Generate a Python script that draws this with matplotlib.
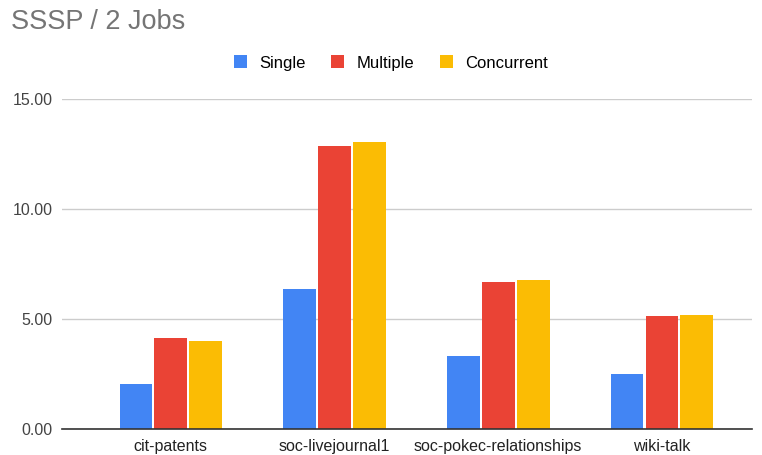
import numpy as np
import matplotlib
matplotlib.use('Agg')
from matplotlib import pyplot as plt

plt.rcParams['font.family'] = ['Liberation Sans', 'DejaVu Sans']

categories = ['cit-patents', 'soc-livejournal1', 'soc-pokec-relationships', 'wiki-talk']
series_names = ['Single', 'Multiple', 'Concurrent']
single = [2.05, 6.38, 3.33, 2.51]
multiple = [4.13, 12.86, 6.70, 5.12]
concurrent = [4.01, 13.03, 6.76, 5.17]
y_ticks = [0, 5, 10, 15]

colors = ['#4285F4', '#EA4335', '#FBBC04']

W, H = 762, 455
fig = plt.figure(figsize=(W / 100, H / 100), dpi=100)
ax = fig.add_axes([62 / W, (H - 429) / H, (752 - 62) / W, (429 - 99) / H])

x = np.arange(len(categories))
width = 0.2
step = 0.213
for i, (name, vals) in enumerate(zip(series_names, [single, multiple, concurrent])):
    ax.bar(x + (i - 1) * step, vals, width, color=colors[i], label=name, zorder=3)

ax.set_xlim(-0.665, 3.55)
ax.set_ylim(0, 15)
ax.set_yticks(y_ticks)
ax.set_yticklabels(['%.2f' % v for v in y_ticks], color='#444444', fontsize=11.5)
ax.set_xticks(x)
ax.set_xticklabels(categories, color='#222222', fontsize=11.5)
ax.tick_params(axis='both', length=0)
ax.tick_params(axis='y', pad=7)
ax.tick_params(axis='x', pad=7)
ax.grid(axis='y', color='#CCCCCC', lw=1, zorder=0)
for s in ['top', 'right', 'left']:
    ax.spines[s].set_visible(False)
ax.spines['bottom'].set_color('#333333')
ax.spines['bottom'].set_linewidth(1.2)
ax.spines['bottom'].set_zorder(4)

fig.text(11 / W, 1 - 22 / H, 'SSSP / 2 Jobs', fontsize=19.5, color='#757575', va='center', ha='left')

fig.legend(loc='center', bbox_to_anchor=(391 / W, 1 - 63 / H), ncol=3, frameon=False,
           fontsize=12, handlelength=0.8, handleheight=0.8, handletextpad=0.75,
           columnspacing=1.5)

fig.savefig('out.png', dpi=100)
